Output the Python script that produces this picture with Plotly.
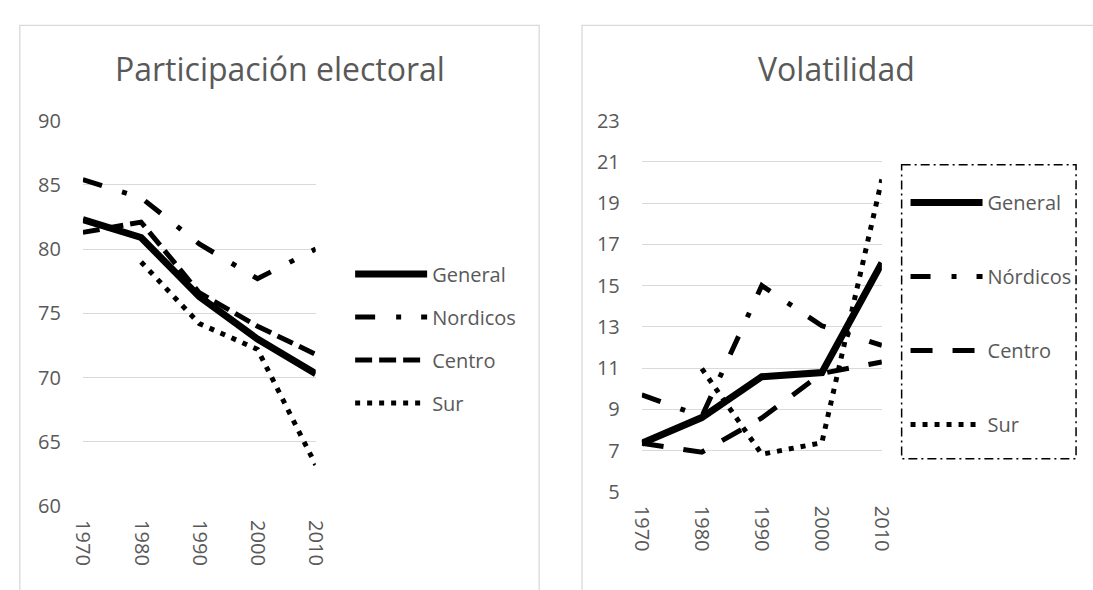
import plotly.graph_objects as go

# ---------------- data ----------------
years = [1970, 1980, 1990, 2000, 2010]
series_names_left = ["General", "Nordicos", "Centro", "Sur"]
series_names_right = ["General", "Nórdicos", "Centro", "Sur"]

part_general = [82.3, 80.9, 76.3, 73.0, 70.3]
part_nordicos = [85.4, 84.0, 80.4, 77.7, 80.0]
part_centro = [81.3, 82.1, 76.6, 74.0, 71.8]
part_sur = [None, 79.0, 74.2, 72.2, 63.2]

vol_general = [7.35, 8.6, 10.58, 10.78, 16.1]
vol_nordicos = [9.7, 8.65, 15.0, 13.05, 12.1]
vol_centro = [7.35, 6.92, 8.58, 10.74, 11.3]
vol_sur = [None, 10.97, 6.82, 7.38, 20.15]

left_yticks = [60, 65, 70, 75, 80, 85, 90]
right_yticks = [5, 7, 9, 11, 13, 15, 17, 19, 21, 23]
title_left = "Participación electoral"
title_right = "Volatilidad"

# ---------------- layout helpers ----------------
W, H = 1093, 590
def px(x):
    return x / W
def py(y):
    return 1 - y / H

FONT = "Open Sans"
GRAY = "#595959"
GRID = "#D9D9D9"

styles_left = [
    dict(width=7, dash="solid"),
    dict(width=5, dash="20px,21px,5px,20px"),
    dict(width=5, dash="17px,7px"),
    dict(width=5, dash="5px,7px"),
]
styles_right = [
    dict(width=7, dash="solid"),
    dict(width=5, dash="20px,21px,5px,20px"),
    dict(width=5, dash="22px,20px"),
    dict(width=5, dash="5px,7px"),
]

fig = go.Figure()

left_data = [part_general, part_nordicos, part_centro, part_sur]
right_data = [vol_general, vol_nordicos, vol_centro, vol_sur]

for i, (name, vals) in enumerate(zip(series_names_left, left_data)):
    fig.add_trace(go.Scatter(
        x=years, y=vals, name=name, mode="lines",
        line=dict(color="black", **styles_left[i]),
        xaxis="x", yaxis="y", legend="legend", legendgroup="L" + str(i),
        connectgaps=False,
    ))
for i, (name, vals) in enumerate(zip(series_names_right, right_data)):
    fig.add_trace(go.Scatter(
        x=years, y=vals, name=name, mode="lines",
        line=dict(color="black", **styles_right[i]),
        xaxis="x2", yaxis="y2", legend="legend2", legendgroup="R" + str(i),
        connectgaps=False,
    ))

axis_common = dict(
    showline=False, zeroline=False, ticks="",
    tickfont=dict(family=FONT, size=20, color=GRAY),
)

fig.update_layout(
    width=W, height=H,
    margin=dict(l=0, r=0, t=0, b=0),
    paper_bgcolor="white", plot_bgcolor="white",
    showlegend=True,
    xaxis=dict(domain=[px(71.7), px(310.7)], range=[1970, 2010], tickvals=years,
               ticktext=[str(y) for y in years], tickangle=90, showgrid=False,
               ticklabelstandoff=13, anchor="y", **axis_common),
    yaxis=dict(domain=[py(515.7), py(111.7)], range=[60, 90], tickvals=left_yticks,
               showgrid=True, gridcolor=GRID, gridwidth=1.3,
               ticklabelstandoff=21, anchor="x", **axis_common),
    xaxis2=dict(domain=[px(645.3), px(891.7)], range=[1970, 2010], tickvals=years,
                ticktext=[str(y) for y in years], tickangle=90, showgrid=False,
                ticklabelstandoff=13, anchor="y2", **axis_common),
    yaxis2=dict(domain=[py(500.7), py(111.7)], range=[5, 23], tickvals=right_yticks,
                showgrid=True, gridcolor=GRID, gridwidth=1.3,
                ticklabelstandoff=21, anchor="x2", **axis_common),
    legend=dict(x=px(346), y=py(252), xanchor="left", yanchor="top",
                font=dict(family=FONT, size=20, color=GRAY),
                bgcolor="rgba(0,0,0,0)", borderwidth=0,
                itemwidth=72, tracegroupgap=14, traceorder="grouped"),
    legend2=dict(x=px(916), y=py(177), xanchor="left", yanchor="top",
                 font=dict(family=FONT, size=20, color=GRAY),
                 bgcolor="rgba(0,0,0,0)", borderwidth=0,
                 itemwidth=72, tracegroupgap=45, traceorder="grouped"),
    annotations=[
        dict(text=title_left, x=px(274), y=py(57), xref="paper", yref="paper",
             xanchor="center", yanchor="middle", showarrow=False,
             font=dict(family=FONT, size=32, color=GRAY)),
        dict(text=title_right, x=px(845.6), y=py(57), xref="paper", yref="paper",
             xanchor="center", yanchor="middle", showarrow=False,
             font=dict(family=FONT, size=32, color=GRAY)),
    ],
    shapes=[
        dict(type="rect", xref="paper", yref="paper", x0=px(7), x1=px(540),
             y0=py(12), y1=py(620), line=dict(color=GRID, width=1.3), layer="below"),
        dict(type="rect", xref="paper", yref="paper", x0=px(584), x1=px(1120),
             y0=py(12), y1=py(620), line=dict(color=GRID, width=1.3), layer="below"),
        dict(type="rect", xref="paper", yref="paper", x0=px(912), x1=px(1091),
             y0=py(158), y1=py(466), line=dict(color="black", width=1.5,
             dash="9px,4px,2px,4px"), layer="above"),
    ],
)

fig.write_html(
    "out.html",
    config={"displayModeBar": False},
    post_script="document.body.style.margin='0';document.body.style.overflow='hidden';",
)
